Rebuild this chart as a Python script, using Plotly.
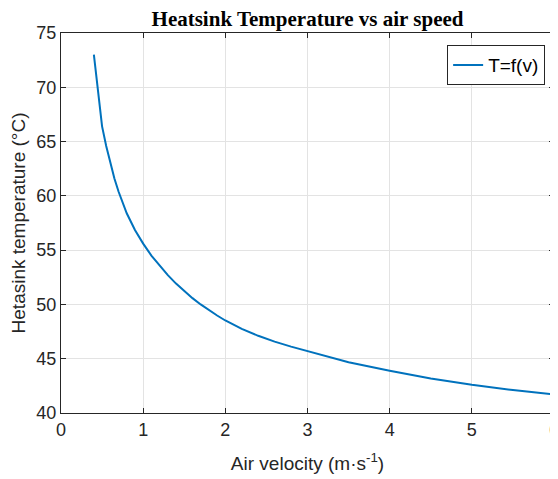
import plotly.graph_objects as go

# air velocity (m/s) and heatsink temperature (degC)
air_speed = [0.4, 0.5, 0.55, 0.6, 0.65, 0.7, 0.8, 0.9, 1.0, 1.1, 1.2, 1.3, 1.4, 1.5, 1.6,
             1.7, 1.8, 1.9, 2.0, 2.2, 2.4, 2.6, 2.8, 3.0, 3.25, 3.5, 4.0, 4.5, 5.0, 5.5, 6.0]
temperature = [73.0, 66.4, 64.6, 63.0, 61.6, 60.4, 58.4, 56.85, 55.6, 54.5, 53.55, 52.7,
               51.92, 51.22, 50.58, 50.0, 49.47, 48.98, 48.52, 47.75, 47.11, 46.57, 46.11,
               45.7, 45.15, 44.67, 43.9, 43.18, 42.6, 42.11, 41.7]

x_ticks = [0, 1, 2, 3, 4, 5, 6]
y_ticks = [40, 45, 50, 55, 60, 65, 70, 75]

axis_col = "#262626"
grid_col = "#e3e3e3"
sans = "Liberation Sans, Arial"

# the page body has an 8px margin, so the figure is drawn 8px smaller
W, H = 550, 471

fig = go.Figure()
fig.add_trace(go.Scatter(
    x=air_speed, y=temperature, mode="lines", name="T=f(v)",
    line=dict(color="#0072BD", width=2),
))

axis_style = dict(
    showline=True, linecolor=axis_col, linewidth=1, mirror="ticks",
    ticks="inside", ticklen=5, tickcolor=axis_col, tickwidth=1,
    showgrid=True, gridcolor=grid_col, gridwidth=1, zeroline=False,
    automargin=False, ticklabeloverflow="allow",
    tickfont=dict(family=sans, size=18, color=axis_col),
)

fig.update_layout(
    width=W, height=H,
    margin=dict(l=53, r=4, t=25, b=66),
    paper_bgcolor="white", plot_bgcolor="white",
    title=dict(text="<b>Heatsink Temperature vs air speed</b>",
               font=dict(family="Liberation Serif, Times New Roman", size=21, color="black"),
               x=(53 + 546) / 2 / W, xanchor="center",
               y=1 - 11 / H, yanchor="middle", yref="container"),
    xaxis=dict(axis_style, range=[0, 6], tickvals=x_ticks,
               title=dict(text="Air velocity (m·s<sup>-1</sup>)", standoff=18,
                          font=dict(family=sans, size=19, color=axis_col))),
    yaxis=dict(axis_style, range=[40, 75], tickvals=y_ticks,
               title=dict(text="Hetasink temperature (°C)", standoff=8,
                          font=dict(family=sans, size=19, color=axis_col))),
    showlegend=True,
    legend=dict(x=0.982, y=0.968, xanchor="right", yanchor="top",
                bordercolor=axis_col, borderwidth=1, bgcolor="white",
                font=dict(family=sans, size=19, color="black")),
)

fig.write_html("out.html")
